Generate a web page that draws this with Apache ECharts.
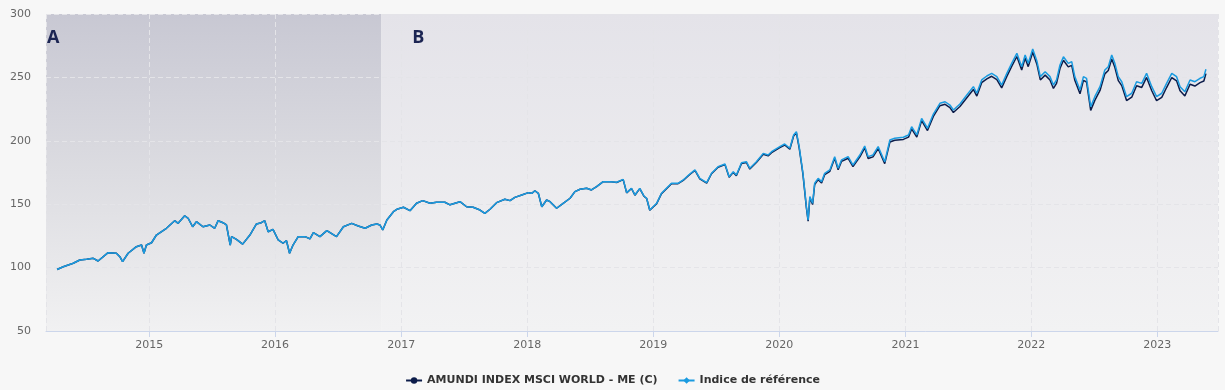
<!DOCTYPE html>
<html>
<head>
<meta charset="utf-8">
<script src="https://cdn.jsdelivr.net/npm/echarts@6/dist/echarts.min.js"></script>
<style>
html,body{margin:0;padding:0;background:#f7f7f7;}
#chart{width:1225px;height:390px;}
</style>
</head>
<body>
<div id="chart"></div>
<script>
var dates = [
'2014-04-09','2014-04-27','2014-05-26','2014-06-14','2014-07-04','2014-07-23','2014-08-06','2014-09-04','2014-09-28','2014-10-08',
'2014-10-16','2014-11-01','2014-11-25','2014-12-10','2014-12-17','2014-12-24','2015-01-08','2015-01-22','2015-02-20','2015-03-16',
'2015-03-26','2015-04-14','2015-04-24','2015-05-07','2015-05-18','2015-06-06','2015-06-26','2015-07-10','2015-07-20','2015-08-03',
'2015-08-13','2015-08-24','2015-08-28','2015-09-11','2015-09-29','2015-10-20','2015-11-08','2015-11-22','2015-12-02','2015-12-12',
'2015-12-26','2016-01-10','2016-01-24','2016-02-03','2016-02-12','2016-02-22','2016-03-08','2016-03-28','2016-04-11','2016-04-21',
'2016-05-10','2016-05-30','2016-06-27','2016-07-17','2016-08-10','2016-08-29','2016-09-18','2016-10-07','2016-10-22','2016-10-31',
'2016-11-08','2016-11-20','2016-12-09','2016-12-19','2017-01-07','2017-01-26','2017-02-14','2017-03-04','2017-03-25','2017-04-13',
'2017-05-07','2017-05-22','2017-06-20','2017-07-09','2017-07-28','2017-08-17','2017-08-31','2017-09-15','2017-10-04','2017-10-28',
'2017-11-12','2017-11-26','2017-12-16','2018-01-04','2018-01-14','2018-01-23','2018-02-02','2018-02-12','2018-02-26','2018-03-08',
'2018-03-27','2018-04-15','2018-05-05','2018-05-19','2018-06-03','2018-06-22','2018-07-06','2018-07-21','2018-08-09','2018-08-28',
'2018-09-17','2018-10-06','2018-10-16','2018-10-30','2018-11-09','2018-11-23','2018-12-05','2018-12-13','2018-12-22','2019-01-11',
'2019-01-25','2019-02-23','2019-03-14','2019-03-29','2019-04-17','2019-05-02','2019-05-16','2019-06-05','2019-06-19','2019-07-08',
'2019-07-28','2019-08-09','2019-08-21','2019-08-30','2019-09-14','2019-09-28','2019-10-08','2019-10-27','2019-11-16','2019-11-30',
'2019-12-10','2020-01-03','2020-01-17','2020-02-01','2020-02-12','2020-02-20','2020-02-28','2020-03-06','2020-03-10','2020-03-15',
'2020-03-20','2020-03-25','2020-03-30','2020-04-07','2020-04-13','2020-04-23','2020-05-03','2020-05-12','2020-05-27','2020-06-10',
'2020-06-20','2020-06-30','2020-07-19','2020-08-02','2020-08-22','2020-09-05','2020-09-15','2020-09-29','2020-10-14','2020-11-02',
'2020-11-17','2020-12-01','2020-12-26','2021-01-10','2021-01-19','2021-02-03','2021-02-17','2021-03-06','2021-03-23','2021-04-11',
'2021-04-26','2021-05-10','2021-05-20','2021-06-08','2021-06-28','2021-07-17','2021-07-27','2021-08-10','2021-08-25','2021-09-08',
'2021-09-23','2021-10-07','2021-10-22','2021-11-05','2021-11-20','2021-12-04','2021-12-14','2021-12-23','2022-01-05','2022-01-17',
'2022-01-27','2022-02-10','2022-02-24','2022-03-06','2022-03-15','2022-03-25','2022-04-04','2022-04-18','2022-04-28','2022-05-07',
'2022-05-22','2022-06-01','2022-06-10','2022-06-22','2022-07-04','2022-07-19','2022-08-02','2022-08-12','2022-08-22','2022-08-31',
'2022-09-10','2022-09-20','2022-10-04','2022-10-19','2022-11-02','2022-11-17','2022-12-01','2022-12-16','2022-12-30','2023-01-14',
'2023-01-28','2023-02-12','2023-02-26','2023-03-08','2023-03-22','2023-04-06','2023-04-20','2023-05-05','2023-05-16','2023-05-22'
];

var indexValues = [
98.5,100.7,103.4,106.0,106.6,107.3,105.2,111.8,111.3,108.6,
104.7,111.3,116.5,117.8,111.3,117.8,119.6,125.7,131.0,137.0,
134.9,140.9,138.9,132.2,136.2,132.2,133.6,131.0,137.0,135.4,
133.6,117.8,124.4,122.3,118.5,125.7,134.4,135.4,137.0,128.3,
130.2,121.8,119.2,121.2,111.3,117.8,124.4,124.4,122.6,127.5,
124.4,129.2,124.4,132.2,134.9,132.8,131.0,133.6,134.4,133.6,
129.7,137.6,144.1,146.0,147.6,144.9,150.7,152.8,150.7,151.5,
151.5,149.5,152.0,148.0,147.6,145.4,142.8,146.0,151.2,153.9,
152.8,155.4,157.3,159.1,158.6,160.6,158.6,148.0,153.3,152.0,
146.8,150.7,154.7,159.9,161.8,162.6,161.2,163.9,167.8,167.8,
167.3,169.6,159.1,162.6,157.3,162.5,156.5,154.7,145.4,150.7,
158.6,166.5,166.5,169.1,173.8,177.0,170.4,167.0,174.4,179.6,
181.7,171.7,175.6,173.0,182.7,183.5,178.3,183.5,190.1,188.8,
191.4,195.4,197.5,194.1,204.6,207.2,195.4,182.2,174.4,161.2,
148.0,137.5,156.0,150.7,166.5,170.4,167.8,174.4,177.0,187.5,
178.3,185.0,187.5,180.9,188.8,195.9,187.5,188.8,195.4,183.5,
200.6,202.0,202.8,204.6,211.1,204.6,217.7,209.9,221.1,229.6,
230.8,228.2,224.3,229.0,236.1,242.7,237.5,248.0,251.1,253.2,
250.6,244.0,253.2,261.1,269.0,258.4,267.7,261.1,272.5,263.0,
250.6,254.5,250.6,244.0,248.0,259.8,266.3,261.1,262.4,250.6,
240.0,250.6,249.3,226.9,234.8,242.7,255.8,258.4,267.7,261.1,
250.6,246.6,234.8,237.5,246.6,245.3,253.2,242.7,234.8,237.5,
245.3,253.2,250.6,242.7,238.7,248.0,246.6,249.3,250.6,256.4
];

var fundValues = [
98.5,100.7,103.4,106.0,106.6,107.3,105.2,111.8,111.3,108.6,
104.7,111.3,116.5,117.8,111.3,117.8,119.6,125.7,131.0,137.0,
134.9,140.9,138.9,132.2,136.2,132.2,133.6,131.0,137.0,135.4,
133.6,117.8,124.4,122.3,118.5,125.7,134.4,135.4,137.0,128.3,
130.2,121.8,119.2,121.2,111.3,117.8,124.4,124.4,122.6,127.5,
124.4,129.2,124.4,132.2,134.9,132.8,131.0,133.6,134.4,133.6,
129.7,137.6,144.1,146.0,147.6,144.9,150.7,152.8,150.7,151.5,
151.5,149.5,152.0,148.0,147.6,145.4,142.8,146.0,151.2,153.9,
152.8,155.4,157.3,159.1,158.6,160.6,158.6,148.0,153.3,152.0,
146.8,150.7,154.7,159.9,161.8,162.6,161.2,163.9,167.8,167.8,
167.1,169.4,158.9,162.4,157.1,162.3,156.3,154.5,145.2,150.4,
158.3,166.2,166.2,168.8,173.4,176.6,170.0,166.6,174.0,179.1,
181.2,171.2,175.1,172.5,182.1,182.9,177.7,182.9,189.4,188.1,
190.7,194.7,196.7,193.3,203.8,206.3,194.5,181.3,173.5,160.3,
147.1,136.6,155.0,149.7,165.5,169.4,166.7,173.3,175.9,186.3,
177.1,183.8,186.2,179.6,187.4,194.5,186.0,187.3,193.9,182.0,
199.0,200.4,201.1,202.9,209.4,202.9,215.9,208.1,219.2,227.7,
228.8,226.2,222.3,227.0,234.0,240.5,235.3,245.8,248.8,250.9,
248.3,241.7,250.8,258.7,266.5,255.9,265.2,258.5,269.9,260.4,
248.0,251.8,247.9,241.3,245.3,257.0,263.5,258.3,259.5,247.7,
237.1,247.7,246.4,224.0,231.9,239.7,252.8,255.4,264.6,258.0,
247.5,243.5,231.7,234.4,243.4,242.1,250.0,239.5,231.6,234.2,
242.0,249.9,247.3,239.4,235.4,244.6,243.2,245.9,247.2,253.0
];

var yearLabels = ['2015','2016','2017','2018','2019','2020','2021','2022','2023'];
var seriesNames = ['AMUNDI INDEX MSCI WORLD - ME (C)', 'Indice de référence'];
var periods = [
  {name: 'A', from: '2014-03-08', to: '2016-11-04'},
  {name: 'B', from: '2016-11-04', to: '2023-06-26'}
];

var chart = echarts.init(document.getElementById('chart'), null, {renderer: 'canvas'});

function grad(stops) {
  return {type: 'linear', x: 0, y: 0, x2: 0, y2: 1,
    colorStops: stops.map(function (s) { return {offset: s[0], color: s[1]}; })};
}

var bandStyles = [
  {color: grad([[0, '#c8c8d3'], [0.5, '#dcdce1'], [1, '#f1f1f2']]), offset: [1, 15]},
  {color: grad([[0, '#e4e3e9'], [1, '#f2f2f3']]), offset: [31, 15]}
];

var fundData = dates.map(function (d, i) { return [d, fundValues[i]]; });
var indexData = dates.map(function (d, i) { return [d, indexValues[i]]; });

var option = {
  backgroundColor: '#f7f7f7',
  animation: false,
  textStyle: {fontFamily: 'DejaVu Sans'},
  grid: {left: 46, right: 7, top: 14, bottom: 59, containLabel: false},
  legend: {
    data: seriesNames,
    left: 'center',
    top: 370,
    itemWidth: 16,
    itemHeight: 8,
    itemGap: 20,
    textStyle: {fontFamily: 'DejaVu Sans', fontSize: 11, fontWeight: 'bold', color: '#333333'}
  },
  xAxis: {
    type: 'time',
    min: '2014-03-08',
    max: '2023-06-26',
    z: 1.5,
    splitNumber: 10,
    minInterval: 365 * 24 * 3600 * 1000,
    maxInterval: 366 * 24 * 3600 * 1000,
    axisLine: {show: true, lineStyle: {color: '#ccd6eb', width: 1}},
    axisTick: {show: true, length: 6, lineStyle: {color: '#ccd6eb'}},
    axisLabel: {
      color: '#666666', fontSize: 11, margin: 9,
      showMinLabel: false, showMaxLabel: false,
      formatter: function (v) {
        var y = String(new Date(v).getFullYear());
        return yearLabels.indexOf(y) >= 0 ? y : '';
      }
    },
    splitLine: {show: true, lineStyle: {color: '#e4e4e8', type: [5, 3], width: 1}}
  },
  yAxis: {
    type: 'value',
    min: 50, max: 300, interval: 50,
    z: 1.5,
    axisLine: {show: false},
    axisTick: {show: false},
    axisLabel: {color: '#666666', fontSize: 11, margin: 15},
    splitLine: {show: true, lineStyle: {color: '#e4e4e8', type: [5, 3], width: 1}}
  },
  series: [
    {
      type: 'line',
      name: 'bands',
      z: 1,
      data: [],
      silent: true,
      markArea: {
        silent: true,
        data: periods.map(function (p, i) {
          return [
            {name: p.name, xAxis: p.from, yAxis: 300,
             itemStyle: {color: bandStyles[i].color},
             label: {show: true, position: 'insideTopLeft', distance: 0, offset: bandStyles[i].offset,
                     color: '#1c2553', fontSize: 18, fontWeight: 'bold', fontFamily: 'Open Sans'}},
            {xAxis: p.to, yAxis: 50}
          ];
        })
      }
    },
    {
      type: 'line',
      name: seriesNames[0],
      data: fundData,
      z: 3,
      symbol: 'circle',
      showSymbol: false,
      lineStyle: {color: '#0c1c4a', width: 1.5},
      itemStyle: {color: '#0c1c4a'}
    },
    {
      type: 'line',
      name: seriesNames[1],
      data: indexData,
      z: 4,
      symbol: 'diamond',
      showSymbol: false,
      lineStyle: {color: '#1a9be0', width: 1.5},
      itemStyle: {color: '#1a9be0'}
    }
  ]
};
chart.setOption(option);
</script>
</body>
</html>
